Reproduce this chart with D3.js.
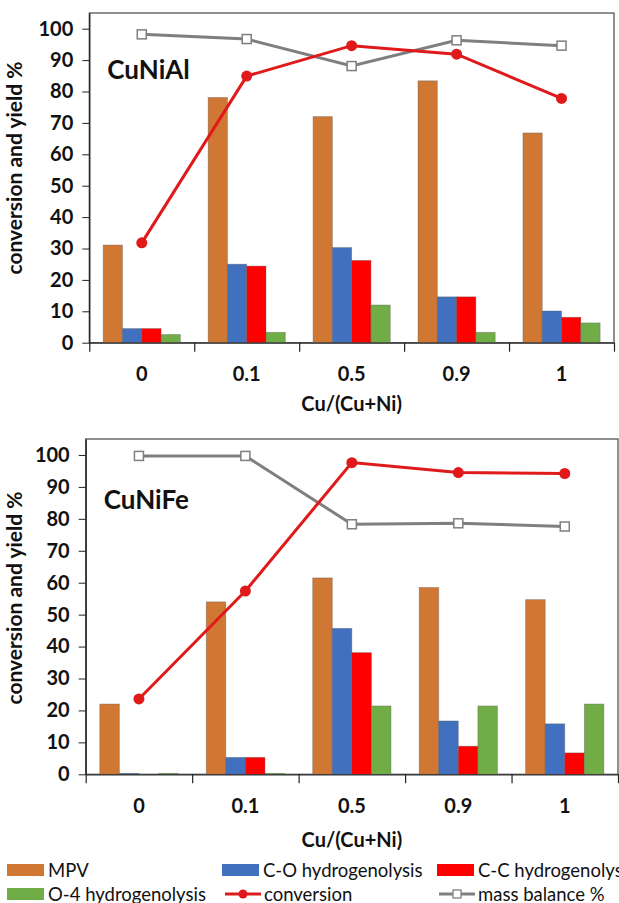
<!DOCTYPE html>
<html>
<head>
<meta charset="utf-8">
<script src="https://cdn.jsdelivr.net/npm/d3@7"></script>
<style>
  body { margin: 0; background: #fff; }
  svg text { font-family: Lato, "Open Sans", sans-serif; fill: #111; }
</style>
</head>
<body>
<div id="chart"></div>
<script>
const categories = ['0', '0.1', '0.5', '0.9', '1'];
const series = ['MPV', 'C-O hydrogenolysis', 'C-C hydrogenolysis', 'O-4 hydrogenolysis'];
const yTicks = [0, 10, 20, 30, 40, 50, 60, 70, 80, 90, 100];

// CuNiAl
const alMPV  = [31.1, 78.1, 72.0, 83.4, 66.8];
const alCO   = [4.5, 25.0, 30.3, 14.6, 10.1];
const alCC   = [4.5, 24.4, 26.2, 14.6, 8.1];
const alO4   = [2.6, 3.3, 12.0, 3.3, 6.3];
const alConv = [31.8, 84.9, 94.6, 91.9, 77.8];
const alMass = [98.2, 96.7, 88.1, 96.3, 94.6];

// CuNiFe
const feMPV  = [22.0, 54.0, 61.5, 58.5, 54.7];
const feCO   = [0.3, 5.3, 45.7, 16.7, 15.8];
const feCC   = [0, 5.3, 38.1, 8.8, 6.7];
const feO4   = [0.3, 0.3, 21.4, 21.4, 22.0];
const feConv = [23.6, 57.4, 97.6, 94.5, 94.2];
const feMass = [99.7, 99.7, 78.3, 78.6, 77.6];

const colors = ['#cf7733', '#4170be', '#ff0000', '#70ad47'];
const convColor = '#e01a1a';
const massColor = '#7f7f7f';

const svg = d3.select('#chart')
              .append('svg')
              .attr('width', 619)
              .attr('height', 903);

function drawPanel(opt) {
  let x = d3.scaleBand()
            .domain(categories)
            .range([opt.left, opt.right]);

  let xs = d3.scaleBand()
             .domain(series)
             .range([0, x.bandwidth()])
             .paddingOuter(0.72);

  let y = d3.scaleLinear()
            .domain([0, 105])
            .range([opt.bottom, opt.top]);

  let xEdge = d3.scaleLinear()
                .domain([0, categories.length])
                .range([opt.left, opt.right]);

  let g = svg.append('g');

  // plot area frame
  g.append('rect')
   .attr('x', opt.left)
   .attr('y', opt.top)
   .attr('width', opt.right - opt.left)
   .attr('height', opt.bottom - opt.top)
   .attr('fill', 'none')
   .attr('stroke', '#555')
   .attr('stroke-width', 1.3);

  // bars
  let rows = categories.map((c, i) => ({cat: c, vals: opt.bars.map(s => s[i])}));
  g.selectAll('.grp')
   .data(rows)
   .enter().append('g')
     .attr('transform', d => 'translate(' + x(d.cat) + ',0)')
   .selectAll('rect')
   .data(d => d.vals.map((v, k) => ({key: series[k], v: v, k: k})))
   .enter().append('rect')
     .attr('x', d => xs(d.key))
     .attr('width', xs.bandwidth())
     .attr('y', d => y(d.v))
     .attr('height', d => y(0) - y(d.v))
     .attr('fill', d => colors[d.k])
     .attr('stroke', d => d.v > 0 ? 'rgba(90,90,90,0.45)' : 'none')
     .attr('stroke-width', 0.8);

  // y axis
  let yAxis = g.append('g')
               .attr('transform', 'translate(' + opt.left + ',0)')
               .call(d3.axisLeft(y).tickValues(yTicks).tickSize(7).tickSizeOuter(0).tickPadding(9));
  yAxis.select('.domain').attr('stroke', '#222').attr('stroke-width', 1.3);
  yAxis.selectAll('.tick line').attr('stroke', '#222');
  yAxis.selectAll('text')
       .style('font-size', '20px')
       .style('font-weight', 700)
       .style('font-family', 'Lato, sans-serif')
       .attr('fill', '#111');

  // x axis (category boundaries)
  let xAxis = g.append('g')
               .attr('transform', 'translate(0,' + opt.bottom + ')')
               .call(d3.axisBottom(xEdge).tickValues(d3.range(0, categories.length + 1)).tickFormat('').tickSize(9).tickSizeOuter(0));
  xAxis.select('.domain').attr('stroke', '#333').attr('stroke-width', 1.3);
  xAxis.selectAll('.tick line').attr('stroke', '#222').attr('stroke-width', 1.2);

  let xLab = g.append('g')
              .attr('transform', 'translate(0,' + opt.bottom + ')')
              .call(d3.axisBottom(x).tickSize(0).tickPadding(opt.labPad));
  xLab.select('.domain').remove();
  xLab.selectAll('text')
      .style('font-size', '20px')
      .style('font-weight', 700)
      .style('font-family', 'Lato, sans-serif')
      .attr('fill', '#111');

  // lines
  let cx = d => x(d.cat) + x.bandwidth() / 2;
  let massPts = categories.map((c, i) => ({cat: c, v: opt.mass[i]}));
  let convPts = categories.map((c, i) => ({cat: c, v: opt.conv[i]}));
  let line = d3.line().x(cx).y(d => y(d.v));

  g.append('path')
   .datum(massPts)
   .attr('fill', 'none')
   .attr('stroke', massColor)
   .attr('stroke-width', 3)
   .attr('d', line);
  g.selectAll('.mass')
   .data(massPts)
   .enter().append('rect')
     .attr('x', d => cx(d) - 4.5)
     .attr('y', d => y(d.v) - 4.5)
     .attr('width', 9)
     .attr('height', 9)
     .attr('fill', '#fff')
     .attr('stroke', massColor)
     .attr('stroke-width', 1.5);

  g.append('path')
   .datum(convPts)
   .attr('fill', 'none')
   .attr('stroke', convColor)
   .attr('stroke-width', 3)
   .attr('d', line);
  g.selectAll('.conv')
   .data(convPts)
   .enter().append('circle')
     .attr('cx', cx)
     .attr('cy', d => y(d.v))
     .attr('r', 5.5)
     .attr('fill', convColor);

  // labels
  g.append('text')
   .attr('x', opt.left + 18)
   .attr('y', y(opt.nameAt))
   .style('font-size', '26px')
   .style('font-weight', 700)
   .text(opt.name);

  g.append('text')
   .attr('transform', 'translate(22,' + opt.yTitleY + ') rotate(-90)')
   .attr('text-anchor', 'middle')
   .style('font-size', '21px')
   .style('font-weight', 700)
   .text('conversion and yield %');

  g.append('text')
   .attr('x', (opt.left + opt.right) / 2)
   .attr('y', opt.bottom + opt.titleDy)
   .attr('text-anchor', 'middle')
   .style('font-size', '20px')
   .style('font-weight', 700)
   .text('Cu/(Cu+Ni)');
}

drawPanel({
  left: 89.3, right: 614, top: 13, bottom: 342.7,
  bars: [alMPV, alCO, alCC, alO4], conv: alConv, mass: alMass,
  name: 'CuNiAl', nameAt: 84, yTitleY: 168, labPad: 24, titleDy: 68
});

drawPanel({
  left: 85.7, right: 618, top: 439, bottom: 774.3,
  bars: [feMPV, feCO, feCC, feO4], conv: feConv, mass: feMass,
  name: 'CuNiFe', nameAt: 83, yTitleY: 598, labPad: 25, titleDy: 73
});

// legend
const legendItems = [
  {label: 'MPV', type: 'bar', color: colors[0], x: 7, row: 0},
  {label: 'C-O hydrogenolysis', type: 'bar', color: colors[1], x: 222, row: 0},
  {label: 'C-C hydrogenolysis', type: 'bar', color: colors[2], x: 437, row: 0},
  {label: 'O-4 hydrogenolysis', type: 'bar', color: colors[3], x: 7, row: 1},
  {label: 'conversion', type: 'conv', color: convColor, x: 225, row: 1},
  {label: 'mass balance %', type: 'mass', color: massColor, x: 439, row: 1}
];

let leg = svg.append('g');
let item = leg.selectAll('g')
              .data(legendItems)
              .enter().append('g')
                .attr('transform', d => 'translate(' + d.x + ',' + (870 + d.row * 24) + ')');

item.filter(d => d.type === 'bar')
    .append('rect')
      .attr('x', 0).attr('y', -6)
      .attr('width', 37).attr('height', 12)
      .attr('fill', d => d.color);

item.filter(d => d.type !== 'bar')
    .append('line')
      .attr('x1', 0).attr('x2', 36)
      .attr('stroke', d => d.color)
      .attr('stroke-width', 3);

item.filter(d => d.type === 'conv')
    .append('circle')
      .attr('cx', 18).attr('r', 4.5)
      .attr('fill', convColor);

item.filter(d => d.type === 'mass')
    .append('rect')
      .attr('x', 14).attr('y', -4).attr('width', 8).attr('height', 8)
      .attr('fill', '#fff')
      .attr('stroke', massColor)
      .attr('stroke-width', 1.3);

item.append('text')
    .attr('x', d => d.type === 'bar' ? 41 : 39)
    .attr('y', 7)
    .style('font-size', '18.5px')
    .text(d => d.label);
</script>
</body>
</html>
